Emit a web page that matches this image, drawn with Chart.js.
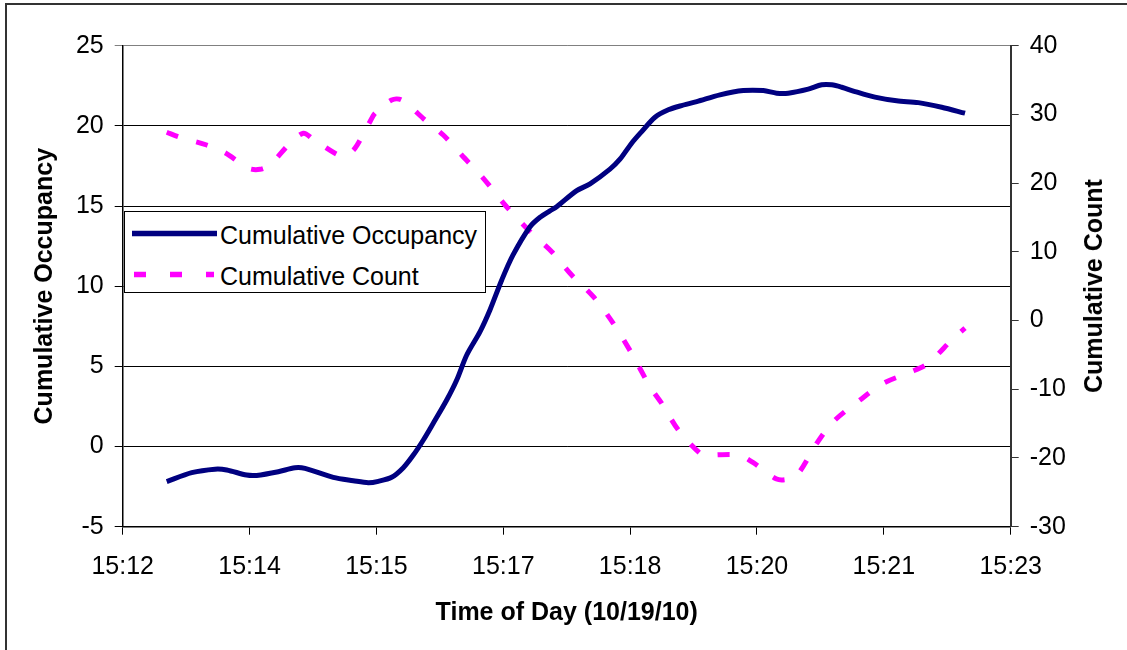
<!DOCTYPE html>
<html>
<head>
<meta charset="utf-8">
<script src="https://cdn.jsdelivr.net/npm/chart.js@4/dist/chart.umd.min.js"></script>
<style>
  html, body { margin: 0; padding: 0; background: #fff; }
  #wrap { position: relative; width: 1127px; height: 650px; overflow: hidden; }
  #frame { position: absolute; left: 5px; top: 3px; width: 1300px; height: 800px;
           border-left: 2px solid #333; border-top: 2px solid #333; }
  canvas { position: absolute; left: 0; top: 0; }
  #legend { position: absolute; left: 124px; top: 211px; width: 362px; height: 82px;
            border: 1px solid #000; background: #fff; box-sizing: border-box; }
  .lt { position: absolute; left: 95px; font-family: "Liberation Sans", Arial, sans-serif;
        font-size: 25px; line-height: 30px; white-space: nowrap; color: #000; }
  svg.ls { position: absolute; left: 0; top: 0; }
  #rtitle { position: absolute; left: 1093px; top: 286px; white-space: nowrap;
            font-family: "Liberation Sans", Arial, sans-serif; font-weight: bold;
            font-size: 25px; line-height: 30px; color: #000;
            transform: translate(-50%, -50%) rotate(-90deg); }
</style>
</head>
<body>
<div id="wrap">
  <div id="frame"></div>
  <canvas id="c" width="1127" height="650"></canvas>
  <div id="legend"></div>
  <div id="rtitle"></div>
</div>
<script>
// ---- data ----
const xTickLabels = ["15:12", "15:14", "15:15", "15:17", "15:18", "15:20", "15:21", "15:23"];
const seriesNames = ["Cumulative Occupancy", "Cumulative Count"];
// x positions in tick-interval units (0 = 15:12 tick, 7 = 15:23 tick)
const occupancyX = [0.347,0.544,0.728,0.820,0.977,1.056,1.227,1.358,1.437,1.660,1.818,1.936,2.015,2.120,2.212,2.291,2.370,2.448,2.554,2.633,2.712,2.817,2.895,2.988,3.077,3.211,3.290,3.368,3.421,3.579,3.684,3.841,3.920,4.012,4.091,4.196,4.301,4.393,4.525,4.708,4.892,5.050,5.155,5.247,5.404,5.510,5.589,5.668,5.773,5.930,6.101,6.272,6.456,6.640];
const occupancyY = [-2.19,-1.63,-1.41,-1.46,-1.78,-1.8,-1.57,-1.32,-1.36,-1.92,-2.13,-2.26,-2.17,-1.92,-1.32,-0.53,0.41,1.45,2.9,4.15,5.71,7.17,8.52,10.39,11.95,13.71,14.3,14.7,14.96,15.96,16.38,17.3,17.92,18.92,19.64,20.54,21.0,21.24,21.51,21.93,22.2,22.2,22.04,22.04,22.29,22.56,22.56,22.41,22.14,21.79,21.56,21.45,21.16,20.79];
const countX = [0.347,0.452,0.662,0.806,0.990,1.082,1.161,1.319,1.424,1.502,1.700,1.766,1.831,1.949,1.989,2.120,2.199,2.383,2.527,2.672,2.843,3.014,3.211,3.382,3.539,3.710,3.867,4.012,4.157,4.249,4.380,4.551,4.604,4.853,4.971,5.155,5.247,5.326,5.471,5.601,5.812,5.996,6.219,6.350,6.547,6.640];
const countY = [27.4,26.67,25.55,24.43,22.16,22.01,22.64,25.8,27.25,26.38,24.09,24.09,25.07,28.94,30.16,32.1,32.1,29.19,27.0,24.09,20.7,16.82,12.93,10.02,6.63,3.47,-0.4,-4.77,-9.63,-12.05,-15.93,-19.32,-19.57,-19.57,-20.69,-23.06,-23.06,-22.23,-17.87,-14.72,-11.56,-9.13,-7.44,-6.22,-2.59,-1.1];
const leftTicks = { min: -5, max: 25, step: 5 };
const rightTicks = { min: -30, max: 40, step: 10 };
const axisTitles = { x: "Time of Day (10/19/10)", y: "Cumulative Occupancy", y1: "Cumulative Count" };

// ---- styles ----
const BLUE = "#000080", PINK = "#FF00FF";
const FONT = "'Liberation Sans', Arial, sans-serif";
const tickFont = { family: FONT, size: 25 };
const titleFont = { family: FONT, size: 25, weight: "bold" };

const toPts = (xs, ys) => xs.map((x, i) => ({ x: x, y: ys[i] }));

const chart = new Chart(document.getElementById("c"), {
  type: "line",
  data: {
    datasets: [
      { label: seriesNames[0], data: toPts(occupancyX, occupancyY), yAxisID: "y",
        borderColor: BLUE, backgroundColor: BLUE, borderWidth: 5, tension: 0.3,
        pointRadius: 0, fill: false, borderCapStyle: "butt" },
      { label: seriesNames[1], data: toPts(countX, countY), yAxisID: "y1",
        borderColor: PINK, backgroundColor: PINK, borderWidth: 5, tension: 0.3,
        borderDash: [12, 19], pointRadius: 0, fill: false, borderCapStyle: "butt" }
    ]
  },
  options: {
    responsive: false,
    animation: false,
    devicePixelRatio: 1,
    layout: { padding: { top: 45.7, left: 0, right: 0, bottom: 0 } },
    plugins: { legend: { display: false }, tooltip: { enabled: false } },
    scales: {
      x: {
        type: "linear", position: "bottom", min: 0, max: xTickLabels.length - 1,
        afterFit: s => { s.height = 123.3; },
        ticks: { stepSize: 1, font: tickFont, color: "#000", padding: 17, maxRotation: 0,
                 autoSkip: false,
                 callback: v => (Number.isInteger(v) ? xTickLabels[v] : "") },
        grid: { drawOnChartArea: false, drawTicks: true, tickLength: 8, color: "#000", lineWidth: 1 },
        border: { display: true, color: "#000", width: 1.5 },
        title: { display: true, text: axisTitles.x, font: titleFont, color: "#000",
                 padding: { top: 0, bottom: 22 } }
      },
      y: {
        type: "linear", position: "left", min: leftTicks.min, max: leftTicks.max,
        afterFit: s => { s.width = 122.7; },
        ticks: { stepSize: leftTicks.step, font: tickFont, color: "#000", padding: 11 },
        grid: { drawOnChartArea: true, drawTicks: true, tickLength: 8, lineWidth: 1,
                color: ctx => (ctx.tick && ctx.tick.value === leftTicks.max ? "#808080" : "#000") },
        border: { display: true, color: "#000", width: 1.5 },
        title: { display: true, text: axisTitles.y, font: titleFont, color: "#000",
                 padding: { top: 30, bottom: 0 } }
      },
      y1: {
        type: "linear", position: "right", min: rightTicks.min, max: rightTicks.max,
        afterFit: s => { s.width = 116.3; },
        ticks: { stepSize: rightTicks.step, font: tickFont, color: "#000", padding: 11 },
        grid: { drawOnChartArea: false, drawTicks: true, tickLength: 8, color: "#333", lineWidth: 1 },
        border: { display: true, color: "#333", width: 2 },
        title: { display: false, text: axisTitles.y1 }
      }
    }
  }
});

// right axis title (reads bottom-to-top, as in the reference)
document.getElementById("rtitle").textContent = axisTitles.y1;

// ---- legend (HTML, built from dataset labels/styles) ----
(function () {
  const lg = document.getElementById("legend");
  const svgNS = "http://www.w3.org/2000/svg";
  const svg = document.createElementNS(svgNS, "svg");
  svg.setAttribute("class", "ls");
  svg.setAttribute("width", "100");
  svg.setAttribute("height", "80");
  const rows = [{ cy: 21.5, top: 7.6 }, { cy: 62.5, top: 49.3 }];
  chart.data.datasets.forEach((ds, i) => {
    const ln = document.createElementNS(svgNS, "line");
    ln.setAttribute("x1", i === 0 ? "7" : "9");
    ln.setAttribute("x2", i === 0 ? "92" : "89");
    ln.setAttribute("y1", rows[i].cy);
    ln.setAttribute("y2", rows[i].cy);
    ln.setAttribute("stroke", ds.borderColor);
    ln.setAttribute("stroke-width", "5.5");
    if (ds.borderDash) ln.setAttribute("stroke-dasharray", "12 24");
    svg.appendChild(ln);
    const t = document.createElement("div");
    t.className = "lt";
    t.style.top = rows[i].top + "px";
    t.textContent = ds.label;
    lg.appendChild(t);
  });
  lg.appendChild(svg);
})();
</script>
</body>
</html>
